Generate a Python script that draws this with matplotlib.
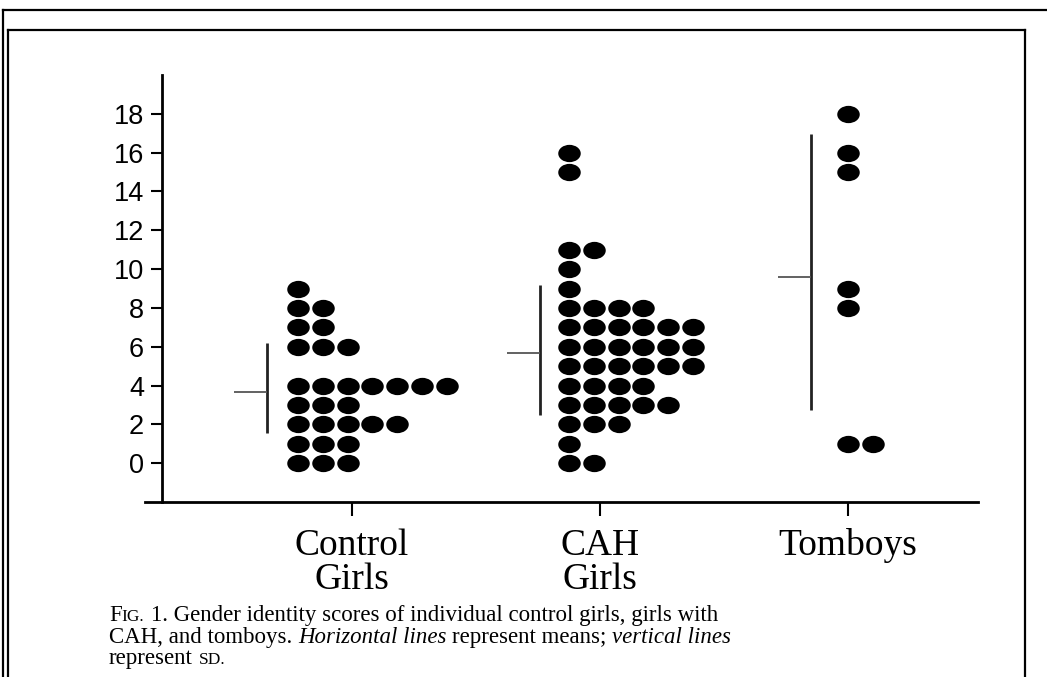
import matplotlib
matplotlib.use("Agg")
import matplotlib.pyplot as plt
from matplotlib.path import Path
from matplotlib.lines import Line2D

# Scores (value -> how many girls had it)
control_scores = [9, 8, 7, 6, 4, 3, 2, 1, 0]
control_counts = [1, 2, 2, 3, 7, 3, 5, 3, 3]
cah_scores = [16, 15, 11, 10, 9, 8, 7, 6, 5, 4, 3, 2, 1, 0]
cah_counts = [1, 1, 2, 1, 1, 4, 6, 6, 6, 4, 5, 3, 1, 2]
tomboy_scores = [18, 16, 15, 9, 8, 1]
tomboy_counts = [1, 1, 1, 1, 1, 2]

group_labels = ["Control\nGirls", "CAH\nGirls", "Tomboys"]
means = [3.65, 5.66, 9.57]
sd_low = [1.54, 2.47, 2.73]
sd_high = [6.17, 9.16, 16.98]

W, H = 1047, 677
fig = plt.figure(figsize=(W / 100, H / 100), dpi=100)
ax = fig.add_axes([145 / W, 1 - 502 / H, 833 / W, 427 / H])

# slightly wide ellipse like the scanned dots
circ = Path.unit_circle()
dot = Path(circ.vertices * [1.3, 1.0], circ.codes)

dot_step = 0.1
first_col = [-0.218, -0.125, 0.0]
groups = [(control_scores, control_counts),
          (cah_scores, cah_counts),
          (tomboy_scores, tomboy_counts)]
for g, (scores, counts) in enumerate(groups):
    xs, ys = [], []
    for s, c in zip(scores, counts):
        for k in range(c):
            xs.append(g + first_col[g] + k * dot_step)
            ys.append(s)
    ax.plot(xs, ys, linestyle="none", marker=dot, markersize=16.2,
            color="black", markeredgewidth=0)

# mean (horizontal) and SD (vertical) lines
sd_x = [-0.343, -0.242, -0.149]
mean_len = 0.135
for g in range(3):
    ax.plot([g + sd_x[g], g + sd_x[g]], [sd_low[g], sd_high[g]],
            color="#222222", lw=2.0, solid_capstyle="butt")
    ax.plot([g + sd_x[g] - mean_len, g + sd_x[g]], [means[g], means[g]],
            color="#555555", lw=1.3, solid_capstyle="butt")

ax.set_xlim(-0.835, 2.524)
ax.set_ylim(-2, 20)
ax.spines["top"].set_visible(False)
ax.spines["right"].set_visible(False)
ax.spines["left"].set_position(("data", -0.766))
ax.spines["left"].set_linewidth(2.0)
ax.spines["bottom"].set_linewidth(2.0)

ax.set_yticks(range(0, 19, 2))
ax.tick_params(axis="y", direction="out", length=8, width=1.5, pad=5,
               labelsize=19.5)
for lab in ax.get_yticklabels():
    lab.set_family("Liberation Sans")

ax.set_xticks(range(3))
ax.set_xticklabels(group_labels, family="Liberation Serif", fontsize=27,
                   linespacing=1.0)
ax.tick_params(axis="x", direction="out", length=10, width=1.5, pad=9)

# page frame lines from the scan
def fig_line(x0, y0, x1, y1, lw=1.6):
    fig.add_artist(Line2D([x0 / W, x1 / W], [1 - y0 / H, 1 - y1 / H],
                          color="black", lw=lw))

fig_line(3, 10, W, 10)
fig_line(3, 10, 3, H)
fig_line(8, 30, 1025, 30)
fig_line(8, 30, 8, H)
fig_line(1025, 30, 1025, H)

# caption with small caps and italics, placed piece by piece
renderer = fig.canvas.get_renderer()
cap_size = 16.5
sc_size = 12.5


def text_width(s, size, style="normal"):
    t = fig.text(0, 0, s, fontsize=size, family="Liberation Serif",
                 style=style)
    w = t.get_window_extent(renderer).width
    t.remove()
    return w


space_w = text_width("a a", cap_size) - text_width("aa", cap_size)


def caption_line(x_px, y_px, parts):
    x = x_px
    for s, size, style, gap in parts:
        x += gap * space_w
        t = fig.text(x / W, 1 - y_px / H, s, fontsize=size,
                     family="Liberation Serif", style=style, va="baseline")
        x += t.get_window_extent(renderer).width


caption_line(109, 621, [
    ("F", cap_size, "normal", 0),
    ("IG.", sc_size, "normal", 0),
    ("1. Gender identity scores of individual control girls, girls with",
     cap_size, "normal", 1.2),
])
caption_line(109, 643, [
    ("CAH, and tomboys.", cap_size, "normal", 0),
    ("Horizontal lines", cap_size, "italic", 1),
    ("represent means;", cap_size, "normal", 1),
    ("vertical lines", cap_size, "italic", 1),
])
caption_line(109, 664, [
    ("represent", cap_size, "normal", 0),
    ("SD.", sc_size, "normal", 1),
])

fig.savefig("out.png", dpi=100)
